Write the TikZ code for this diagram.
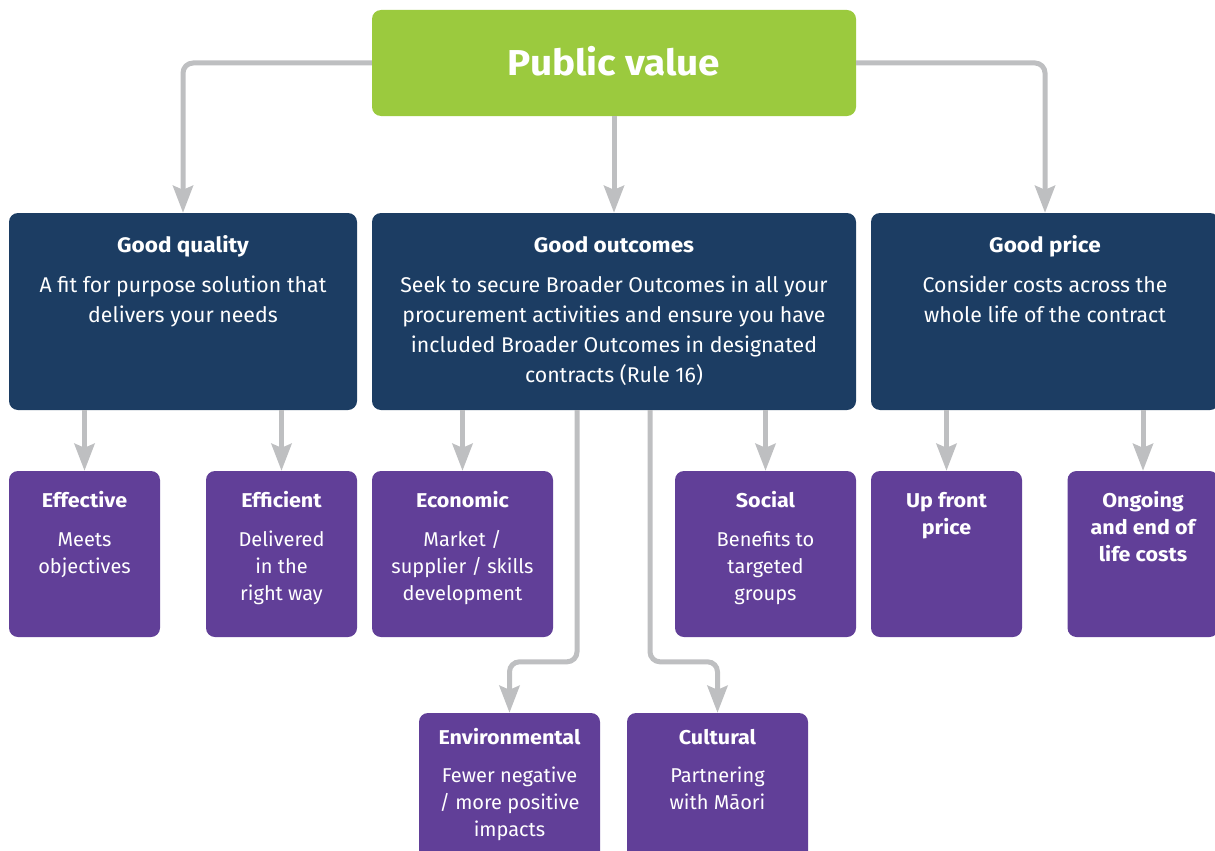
\documentclass[tikz,border=0pt]{standalone}
\usepackage{fontspec}
\setmainfont{Fira Sans}[BoldFeatures={FakeStretch=1.075}]
\usetikzlibrary{arrows.meta}
\definecolor{pvgreen}{HTML}{9BCA3E}
\definecolor{navy}{HTML}{1C3D63}
\definecolor{purp}{HTML}{613F98}
\definecolor{argray}{HTML}{BEBFC1}
\newcommand\bodyA{\fontsize{21.3}{30}\selectfont}
\newcommand\bodyB{\fontsize{20}{27}\selectfont}
\begin{document}
\begin{tikzpicture}[x=1pt,y=-1pt,
  box/.style={rounded corners=9pt, inner sep=0pt, draw=none},
  pvbox/.style={box, fill=pvgreen, minimum width=484pt, minimum height=106pt},
  l2box/.style={box, fill=navy, minimum height=197pt},
  l3box/.style={box, fill=purp, minimum height=166pt},
  ttlA/.style={text=white, font=\bfseries\fontsize{21}{24}\selectfont, inner sep=0pt, anchor=base},
  ttlB/.style={text=white, font=\bfseries\fontsize{20}{27}\selectfont, inner sep=0pt, anchor=base},
  ttlBm/.style={text=white, font=\bfseries\fontsize{20}{27}\selectfont, inner sep=0pt, anchor=north, align=center},
  bodytxtA/.style={text=white, font=\bodyA, inner sep=0pt, anchor=north, align=center},
  bodytxtB/.style={text=white, font=\bodyB, inner sep=0pt, anchor=north, align=center},
  conn/.style={draw=argray, line width=5pt, rounded corners=10pt},
  arr/.style={conn, -{Stealth[length=27pt,width=20pt,inset=4pt]}}
]
\useasboundingbox (0,0) rectangle (1215,851);
\clip (0,0) rectangle (1215,851);

% top
\node[pvbox] (pv) at (614,63) {};
\node[text=white, font=\bfseries\fontsize{36}{40}\selectfont, inner sep=0pt, anchor=base] (pvt) at (614,76) {Public value};

% level 2
\node[l2box, minimum width=348pt] (gq) at (183,311.5) {};
\node[l2box, minimum width=484pt] (go) at (614,311.5) {};
\node[l2box, minimum width=348pt] (gp) at (1045,311.5) {};

\node[ttlA] (gqt) at (183,252) {Good quality};
\node[bodytxtA] (gqb) at (183,271) {\strut A fit for purpose solution that\\delivers your needs};
\node[ttlA] (got) at (614,252) {Good outcomes};
\node[bodytxtA] (gob) at (614,271) {\strut Seek to secure Broader Outcomes in all your\\procurement activities and ensure you have\\included Broader Outcomes in designated\\contracts (Rule 16)};
\node[ttlA] (gpt) at (1045,252) {Good price};
\node[bodytxtA] (gpb) at (1045,271) {\strut Consider costs across the\\whole life of the contract};

% level 3
\node[l3box, minimum width=151pt] (eff) at (84.5,554) {};
\node[l3box, minimum width=151pt] (effi) at (281.5,554) {};
\node[l3box, minimum width=181pt] (econ) at (462.5,554) {};
\node[l3box, minimum width=181pt] (soc) at (765.5,554) {};
\node[l3box, minimum width=151pt] (up) at (946.5,554) {};
\node[l3box, minimum width=151pt] (ong) at (1143,554) {};
\node[l3box, minimum width=181pt] (env) at (509.5,796) {};
\node[l3box, minimum width=181pt] (cul) at (717.5,796) {};

\node[ttlB] (efft) at (84.5,507) {Effective};
\node[bodytxtB] (effb) at (84.5,527) {\strut Meets\\objectives};
\node[ttlB] (effit) at (281.5,507) {Efficient};
\node[bodytxtB] (effib) at (281.5,527) {\strut Delivered\\in the\\right way};
\node[ttlB] (econt) at (462.5,507) {Economic};
\node[bodytxtB] (econb) at (462.5,527) {\strut Market /\\supplier / skills\\development};
\node[ttlB] (soct) at (765.5,507) {Social};
\node[bodytxtB] (socb) at (765.5,527) {\strut Benefits to\\targeted\\groups};
\node[ttlBm] (upt) at (946.5,488) {\strut Up front\\price};
\node[ttlBm] (ongt) at (1143,488) {\strut Ongoing\\and end of\\life costs};
\node[ttlB] (envt) at (509.5,744) {Environmental};
\node[bodytxtB] (envb) at (509.5,763) {\strut Fewer negative\\/ more positive\\impacts};
\node[ttlB] (cult) at (717.5,744) {Cultural};
\node[bodytxtB] (culb) at (717.5,763) {\strut Partnering\\with Māori};

% connectors
\draw[arr] (pv.west) -| (gq.north);
\draw[arr] (pv.south) -- (go.north);
\draw[arr] (pv.east) -| (gp.north);
\draw[arr] (eff.north |- gq.south) -- (eff.north);
\draw[arr] (effi.north |- gq.south) -- (effi.north);
\draw[arr] (econ.north |- go.south) -- (econ.north);
\draw[arr] (soc.north |- go.south) -- (soc.north);
\draw[arr] (up.north |- gp.south) -- (up.north);
\draw[arr] (ong.north |- gp.south) -- (ong.north);
\draw[arr] ([xshift=-37pt]go.south) |- ([yshift=51pt]env.north) -- (env.north);
\draw[arr] ([xshift=36pt]go.south) |- ([yshift=51pt]cul.north) -- (cul.north);
\end{tikzpicture}
\end{document}
